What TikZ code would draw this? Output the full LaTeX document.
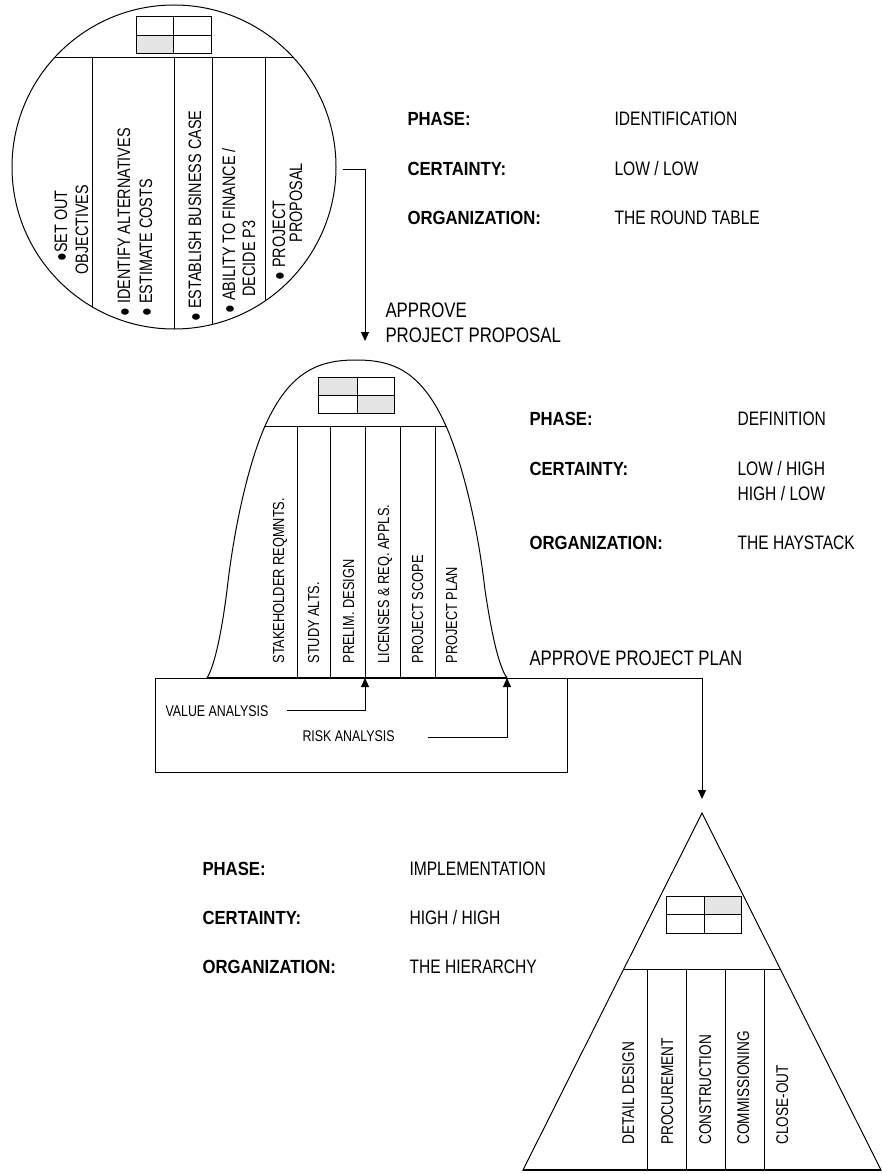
\documentclass[tikz,border=0pt]{standalone}
\usepackage{fontspec}
\setmainfont{Liberation Sans}[FakeStretch=0.8, BoldFeatures={FakeStretch=0.88}]
\usetikzlibrary{arrows.meta}

\begin{document}
\begin{tikzpicture}[x=1pt, y=-1pt, line width=1pt, >={Triangle[length=9pt,width=8pt]},
    lbl/.style={anchor=base west, inner sep=0, font=\fontsize{19}{22}\selectfont\bfseries},
    val/.style={anchor=base west, inner sep=0, font=\fontsize{19.5}{22}\selectfont},
    gate/.style={anchor=base west, inner sep=0, font=\fontsize{21}{24}\selectfont},
    small/.style={anchor=base west, inner sep=0, font=\fontsize{15.5}{18}\selectfont},
    col/.style={rotate=90, anchor=base west, inner sep=0, font=\fontsize{#1}{20}\selectfont},
    cell/.style={fill=black!10}]
    \useasboundingbox (0,0) rectangle (882,1174);

    % the round table
    \node[draw, circle, minimum size=324pt, inner sep=0] (rtable) at (174,167) {};
    \begin{scope}
        \clip (174,167) circle[radius=162pt];
        \draw (0,58) -- (340,58);
        \foreach \x in {92,174,212,265}
            \draw (\x,58) -- (\x,340);
    \end{scope}
    \fill[cell] (136,36) rectangle (173,54);
    \draw (136,17) rectangle (211,54) (173,17) -- (173,54) (136,36) -- (211,36);
    \node[col=18] (obj1) at (67,262) {●SET OUT};
    \node[col=18] (obj2) at (88,275) {OBJECTIVES};
    \node[col=18] (alt1) at (130,317) {● IDENTIFY ALTERNATIVES};
    \node[col=18] (alt2) at (152,317) {● ESTIMATE COSTS};
    \node[col=18] (case) at (201,322) {● ESTABLISH BUSINESS CASE};
    \node[col=18] (fin1) at (235,314) {● ABILITY TO FINANCE /};
    \node[col=18] (fin2) at (255,297) {DECIDE P3};
    \node[col=18] (prop1) at (285,281) {● PROJECT};
    \node[col=18] (prop2) at (302,243) {PROPOSAL};

    \node[lbl] (ph1) at (407,126) {PHASE:};
    \node[val] (ph1v) at (614,126) {IDENTIFICATION};
    \node[lbl] (ce1) at (407,176) {CERTAINTY:};
    \node[val] (ce1v) at (614,176) {LOW / LOW};
    \node[lbl] (or1) at (407,225) {ORGANIZATION:};
    \node[val] (or1v) at (614,225) {THE ROUND TABLE};

    % approve project proposal
    \node[gate] (appr1) at (385,317) {APPROVE};
    \node[gate] (appr1b) at (385,342) {PROJECT PROPOSAL};
    \coordinate (p1s) at ([shift={(6,3)}]rtable.east);
    \coordinate (p1e) at (365,341);
    \draw[->] (p1s) -| (p1e);

    % the haystack
    \draw (207,678) .. controls (215,665) and (222,630) .. (227,590)
        .. controls (235,520) and (250,460) .. (265,426)
        .. controls (290,370) and (320,360) .. (356,360)
        .. controls (392,360) and (421,370) .. (446,426)
        .. controls (461,460) and (477,520) .. (485,590)
        .. controls (491,630) and (498,665) .. (507,678);
    \draw (265,426) -- (446,426);
    \foreach \x in {297,330,365,400,435}
        \draw (\x,426) -- (\x,678);
    \fill[cell] (318,377) rectangle (357,395) (357,395) rectangle (394,413);
    \draw (318,377) rectangle (394,413) (357,377) -- (357,413) (318,395) -- (394,395);
    \foreach \x/\t [count=\i] in {284/STAKEHOLDER REQMNTS., 319/STUDY ALTS., 354/PRELIM. DESIGN,
            389/LICENSES \& REQ. APPLS., 423/PROJECT SCOPE, 457/PROJECT PLAN}
        \node[col=16] (hs\i) at (\x,664) {\t};

    \node[draw, line width=0.8pt, minimum width=412pt, minimum height=94pt, inner sep=0,
        anchor=north west] (abox) at (155,678) {};
    \draw[line width=1.6pt] (207,678) -- (507,678);
    \node[small] (va) at (165,716) {VALUE ANALYSIS};
    \node[small] (ra) at (302,741) {RISK ANALYSIS};
    \coordinate (vas) at (287,710);
    \coordinate (vat) at (365,678);
    \draw[->] (vas) -| (vat);
    \coordinate (ras) at (428,737);
    \coordinate (rat) at (507,678);
    \draw[->] (ras) -| (rat);

    \node[lbl] (ph2) at (529,425) {PHASE:};
    \node[val] (ph2v) at (737,425) {DEFINITION};
    \node[lbl] (ce2) at (529,475) {CERTAINTY:};
    \node[val] (ce2v) at (737,475) {LOW / HIGH};
    \node[val] (ce2w) at (737,500) {HIGH / LOW};
    \node[lbl] (or2) at (529,549) {ORGANIZATION:};
    \node[val] (or2v) at (737,549) {THE HAYSTACK};

    % approve project plan
    \node[gate] (appr2) at (529,665) {APPROVE PROJECT PLAN};
    \coordinate (p2e) at (702,799);
    \draw[->] (abox.north east) -| (p2e);

    % the hierarchy
    \coordinate (apex) at (702,813);
    \draw (apex) -- (881,1170) -- (523,1170) -- cycle;
    \draw[line width=1.6pt] (523,1170) -- (881,1170);
    \draw (624,969) -- (780,969);
    \foreach \x in {647,686,725,764}
        \draw (\x,969) -- (\x,1170);
    \fill[cell] (704,896) rectangle (741,914);
    \draw (666,896) rectangle (741,933) (704,896) -- (704,933) (666,914) -- (741,914);
    \foreach \x/\t [count=\i] in {634/DETAIL DESIGN, 673/PROCUREMENT, 711/CONSTRUCTION,
            749/COMMISSIONING, 788/CLOSE-OUT}
        \node[col=17] (hi\i) at (\x,1145) {\t};

    \node[lbl] (ph3) at (202,875) {PHASE:};
    \node[val] (ph3v) at (409,875) {IMPLEMENTATION};
    \node[lbl] (ce3) at (202,924) {CERTAINTY:};
    \node[val] (ce3v) at (409,924) {HIGH / HIGH};
    \node[lbl] (or3) at (202,973) {ORGANIZATION:};
    \node[val] (or3v) at (409,973) {THE HIERARCHY};
\end{tikzpicture}
\end{document}
